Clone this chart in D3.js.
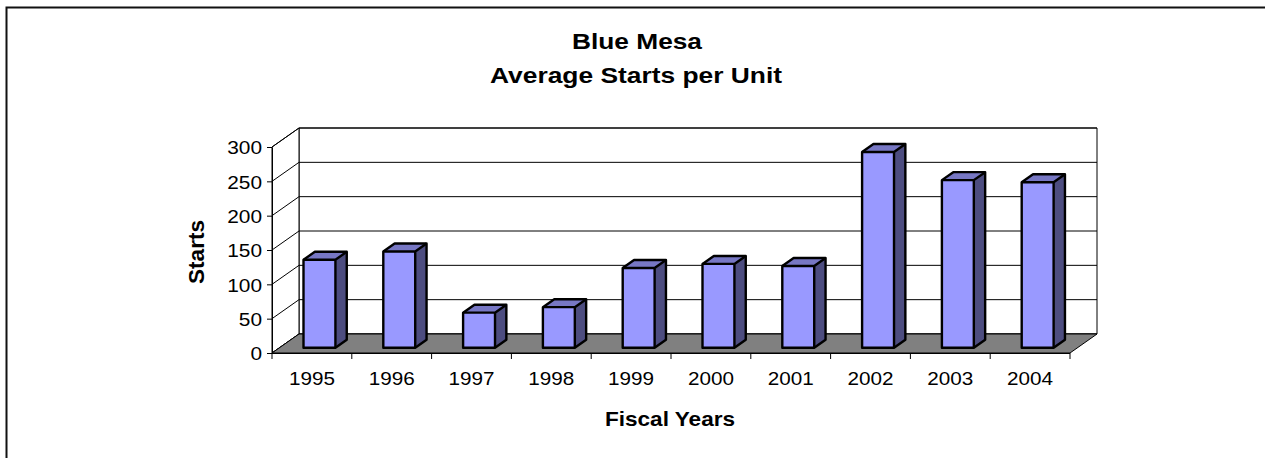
<!DOCTYPE html>
<html>
<head>
<meta charset="utf-8">
<script src="https://cdn.jsdelivr.net/npm/d3@7"></script>
<style>
  body { margin: 0; background: #fff; }
  svg { display: block; font-family: "Liberation Sans", Arial, sans-serif; }
</style>
</head>
<body>
<svg id="chart" width="1265" height="458"></svg>
<script>
// Data.
const years = ['1995', '1996', '1997', '1998', '1999', '2000', '2001', '2002', '2003', '2004'];
const starts = [128, 140, 51, 59, 116, 122, 119, 285, 244, 241];
const yTicks = [0, 50, 100, 150, 200, 250, 300];

// Layout of the 3d box.
const front = {left: 272, right: 1070, top: 147, bottom: 353};
const depth = {dx: 27, dy: -19};
const barDepth = {from: 0.28, to: 0.70};

const svg = d3.select('#chart');

const x = d3.scaleBand()
  .domain(years)
  .range([front.left, front.right])
  .paddingInner(0.6)
  .paddingOuter(0.3);

const y = d3.scaleLinear()
  .domain([0, 300])
  .range([front.bottom, front.top]);

// push a point back into the box by a fraction of its depth
const back = (px, py, f) => [px + f * depth.dx, py + f * depth.dy];
const poly = (pts) => 'M' + pts.map(p => p.join(',')).join('L') + 'Z';

// Outer frame.
svg.append('rect')
  .attr('x', 6.5).attr('y', 7.5)
  .attr('width', 1300).attr('height', 500)
  .attr('fill', 'none')
  .attr('stroke', '#111')
  .attr('stroke-width', 2);

// Walls.
const walls = svg.append('g');
walls.append('path')
  .attr('d', poly([back(front.left, y(0), 1), back(front.right, y(0), 1), back(front.right, y(300), 1), back(front.left, y(300), 1)]))
  .attr('fill', '#fff').attr('stroke', '#000').attr('stroke-width', 1);
walls.append('path')
  .attr('d', poly([[front.left, y(0)], back(front.left, y(0), 1), back(front.left, y(300), 1), [front.left, y(300)]]))
  .attr('fill', '#fff').attr('stroke', '#000').attr('stroke-width', 1);

// Gridlines on back wall and side wall.
yTicks.forEach((t) => {
  const a = back(front.left, y(t), 1);
  const b = back(front.right, y(t), 1);
  walls.append('line')
    .attr('x1', a[0]).attr('y1', a[1]).attr('x2', b[0]).attr('y2', b[1])
    .attr('stroke', '#000').attr('stroke-width', 1);
  walls.append('line')
    .attr('x1', front.left).attr('y1', y(t)).attr('x2', a[0]).attr('y2', a[1])
    .attr('stroke', '#000').attr('stroke-width', 1);
});

// Floor.
svg.append('path')
  .attr('d', poly([[front.left, y(0)], [front.right, y(0)], back(front.right, y(0), 1), back(front.left, y(0), 1)]))
  .attr('fill', '#808080')
  .attr('stroke', '#000')
  .attr('stroke-width', 1);

// Bars.
const bars = svg.append('g')
  .selectAll('g')
  .data(years.map((d, i) => ({year: d, value: starts[i]})))
  .join('g');

const corners = (d) => {
  const x0 = x(d.year);
  const x1 = x0 + x.bandwidth();
  return {
    fbl: back(x0, y(0), barDepth.from), fbr: back(x1, y(0), barDepth.from),
    ftl: back(x0, y(d.value), barDepth.from), ftr: back(x1, y(d.value), barDepth.from),
    bbr: back(x1, y(0), barDepth.to),
    btl: back(x0, y(d.value), barDepth.to), btr: back(x1, y(d.value), barDepth.to)
  };
};

bars.append('path')
  .attr('d', (d) => { const c = corners(d); return poly([c.fbr, c.bbr, c.btr, c.ftr]); })
  .attr('fill', '#4d4d80');
bars.append('path')
  .attr('d', (d) => { const c = corners(d); return poly([c.ftl, c.ftr, c.btr, c.btl]); })
  .attr('fill', '#7777c4');
bars.append('path')
  .attr('d', (d) => { const c = corners(d); return poly([c.fbl, c.fbr, c.ftr, c.ftl]); })
  .attr('fill', '#9999ff');
bars.append('path')
  .attr('d', (d) => { const c = corners(d); return poly([c.fbl, c.fbr, c.bbr, c.btr, c.btl, c.ftl]); })
  .attr('fill', 'none').attr('stroke', '#000').attr('stroke-width', 2.4).attr('stroke-linejoin', 'round');
bars.append('path')
  .attr('d', (d) => { const c = corners(d); return 'M' + c.ftl + 'L' + c.ftr + 'L' + c.fbr + 'M' + c.ftr + 'L' + c.btr; })
  .attr('fill', 'none').attr('stroke', '#000').attr('stroke-width', 2.4).attr('stroke-linejoin', 'round');

// Y axis.
const yAxis = svg.append('g')
  .attr('transform', 'translate(' + front.left + ',0)')
  .call(d3.axisLeft(y).tickValues(yTicks).tickSize(5).tickSizeOuter(0).tickPadding(5));
yAxis.select('.domain').attr('stroke', '#000');
yAxis.selectAll('.tick line').attr('stroke', '#000');
yAxis.selectAll('text')
  .attr('fill', '#000')
  .style('font-size', '19px')
  .attr('textLength', (d) => String(d).length * 11.6)
  .attr('lengthAdjust', 'spacingAndGlyphs')
  .attr('dy', '0.36em');

// X axis: labels at centres, ticks at category edges.
const xAxis = svg.append('g')
  .attr('transform', 'translate(0,' + front.bottom + ')')
  .call(d3.axisBottom(x).tickSize(0).tickSizeOuter(0));
xAxis.select('.domain').attr('stroke', '#000').attr('d', 'M' + front.left + ',0.5H' + front.right);
xAxis.selectAll('text')
  .attr('fill', '#000')
  .style('font-size', '19px')
  .attr('y', 32).attr('dy', 0)
  .attr('textLength', 46)
  .attr('lengthAdjust', 'spacingAndGlyphs');
xAxis.selectAll('line.edge')
  .data(d3.range(years.length + 1))
  .join('line')
  .attr('class', 'edge')
  .attr('x1', (i) => front.left + i * x.step()).attr('x2', (i) => front.left + i * x.step())
  .attr('y1', 0).attr('y2', 6)
  .attr('stroke', '#000');

// Titles.
const titles = [
  {text: 'Blue Mesa', x: 637, y: 49, len: 130},
  {text: 'Average Starts per Unit', x: 636, y: 83, len: 292}
];
svg.selectAll('text.title')
  .data(titles)
  .join('text')
  .attr('class', 'title')
  .attr('x', (d) => d.x).attr('y', (d) => d.y)
  .attr('text-anchor', 'middle')
  .attr('textLength', (d) => d.len)
  .attr('lengthAdjust', 'spacingAndGlyphs')
  .style('font-size', '22px')
  .style('font-weight', 'bold')
  .text((d) => d.text);

svg.append('text')
  .attr('transform', 'translate(204,252) rotate(-90)')
  .attr('text-anchor', 'middle')
  .attr('textLength', 64)
  .attr('lengthAdjust', 'spacingAndGlyphs')
  .style('font-size', '22px')
  .style('font-weight', 'bold')
  .text('Starts');

svg.append('text')
  .attr('x', 670).attr('y', 426)
  .attr('text-anchor', 'middle')
  .attr('textLength', 130)
  .attr('lengthAdjust', 'spacingAndGlyphs')
  .style('font-size', '21px')
  .style('font-weight', 'bold')
  .text('Fiscal Years');
</script>
</body>
</html>
